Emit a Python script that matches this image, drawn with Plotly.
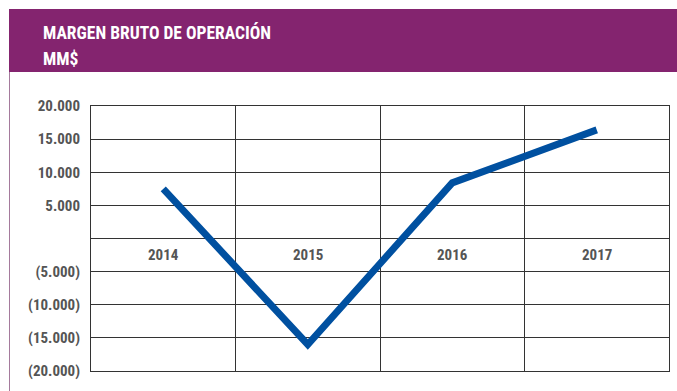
import plotly.graph_objects as go

# Gross operating margin, millions of pesos
years = ["2014", "2015", "2016", "2017"]
margin = [7500, -16000, 8400, 16400]

y_ticks = [-20000, -15000, -10000, -5000, 0, 5000, 10000, 15000, 20000]
y_tick_text = ["(20.000)", "(15.000)", "(10.000)", "(5.000)", "",
               "5.000", "10.000", "15.000", "20.000"]

W, H = 677, 391
L, R, T, B = 91, 8, 106, 20
pw, ph = W - L - R, H - T - B


def px(x):
    return (x - L) / pw


def py(y):
    return (H - B - y) / ph


FONT = ("Roboto Condensed, Noto Sans Condensed, Open Sans Condensed, "
        "DejaVu Sans Condensed, sans-serif")
PURPLE = "#84246f"
GRID = "#333333"

x_idx = list(range(len(years)))

fig = go.Figure()
fig.add_trace(go.Scatter(
    x=x_idx, y=margin, mode="lines",
    line=dict(color="#0050a0", width=7),
    hoverinfo="skip", showlegend=False,
))

annotations = [
    dict(x=i, y=-2500, xref="x", yref="y", text=f"<b>{yr}</b>", showarrow=False,
         font=dict(family=FONT, size=15, color="#555555"))
    for i, yr in enumerate(years)
]
annotations += [
    dict(x=px(41), y=py(32), xref="paper", yref="paper", xanchor="left",
         yanchor="middle", text="<b>MARGEN BRUTO DE OPERACIÓN</b>", showarrow=False,
         font=dict(family=FONT, size=17.5, color="white")),
    dict(x=px(41), y=py(59.5), xref="paper", yref="paper", xanchor="left",
         yanchor="middle", text="<b>MM$</b>", showarrow=False,
         font=dict(family=FONT, size=17.5, color="white")),
]

shapes = [
    dict(type="rect", xref="paper", yref="paper", x0=px(9), x1=px(678),
         y0=py(72), y1=py(9), fillcolor=PURPLE, line=dict(width=0), layer="below"),
    dict(type="line", xref="paper", yref="paper", x0=px(9.5), x1=px(9.5),
         y0=py(72), y1=py(392), line=dict(color="#a57a9c", width=1)),
]

fig.update_layout(
    width=W, height=H,
    margin=dict(l=L, r=R, t=T, b=B),
    paper_bgcolor="white", plot_bgcolor="white",
    annotations=annotations, shapes=shapes,
    xaxis=dict(
        range=[-0.5, len(years) - 0.5],
        tickvals=[i - 0.5 for i in range(len(years) + 1)],
        showticklabels=False, ticks="",
        showgrid=True, gridcolor=GRID, gridwidth=1,
        showline=True, mirror=True, linecolor=GRID, linewidth=1,
        zeroline=False, fixedrange=True,
    ),
    yaxis=dict(
        range=[-20000, 20000],
        tickvals=y_ticks, ticktext=y_tick_text,
        ticks="", ticklabelstandoff=7,
        tickfont=dict(family=FONT, size=15, color="#555555", weight="bold"),
        showgrid=True, gridcolor=GRID, gridwidth=1,
        showline=True, mirror=True, linecolor=GRID, linewidth=1,
        zeroline=False, fixedrange=True,
    ),
)

fig.write_html("out.html")
